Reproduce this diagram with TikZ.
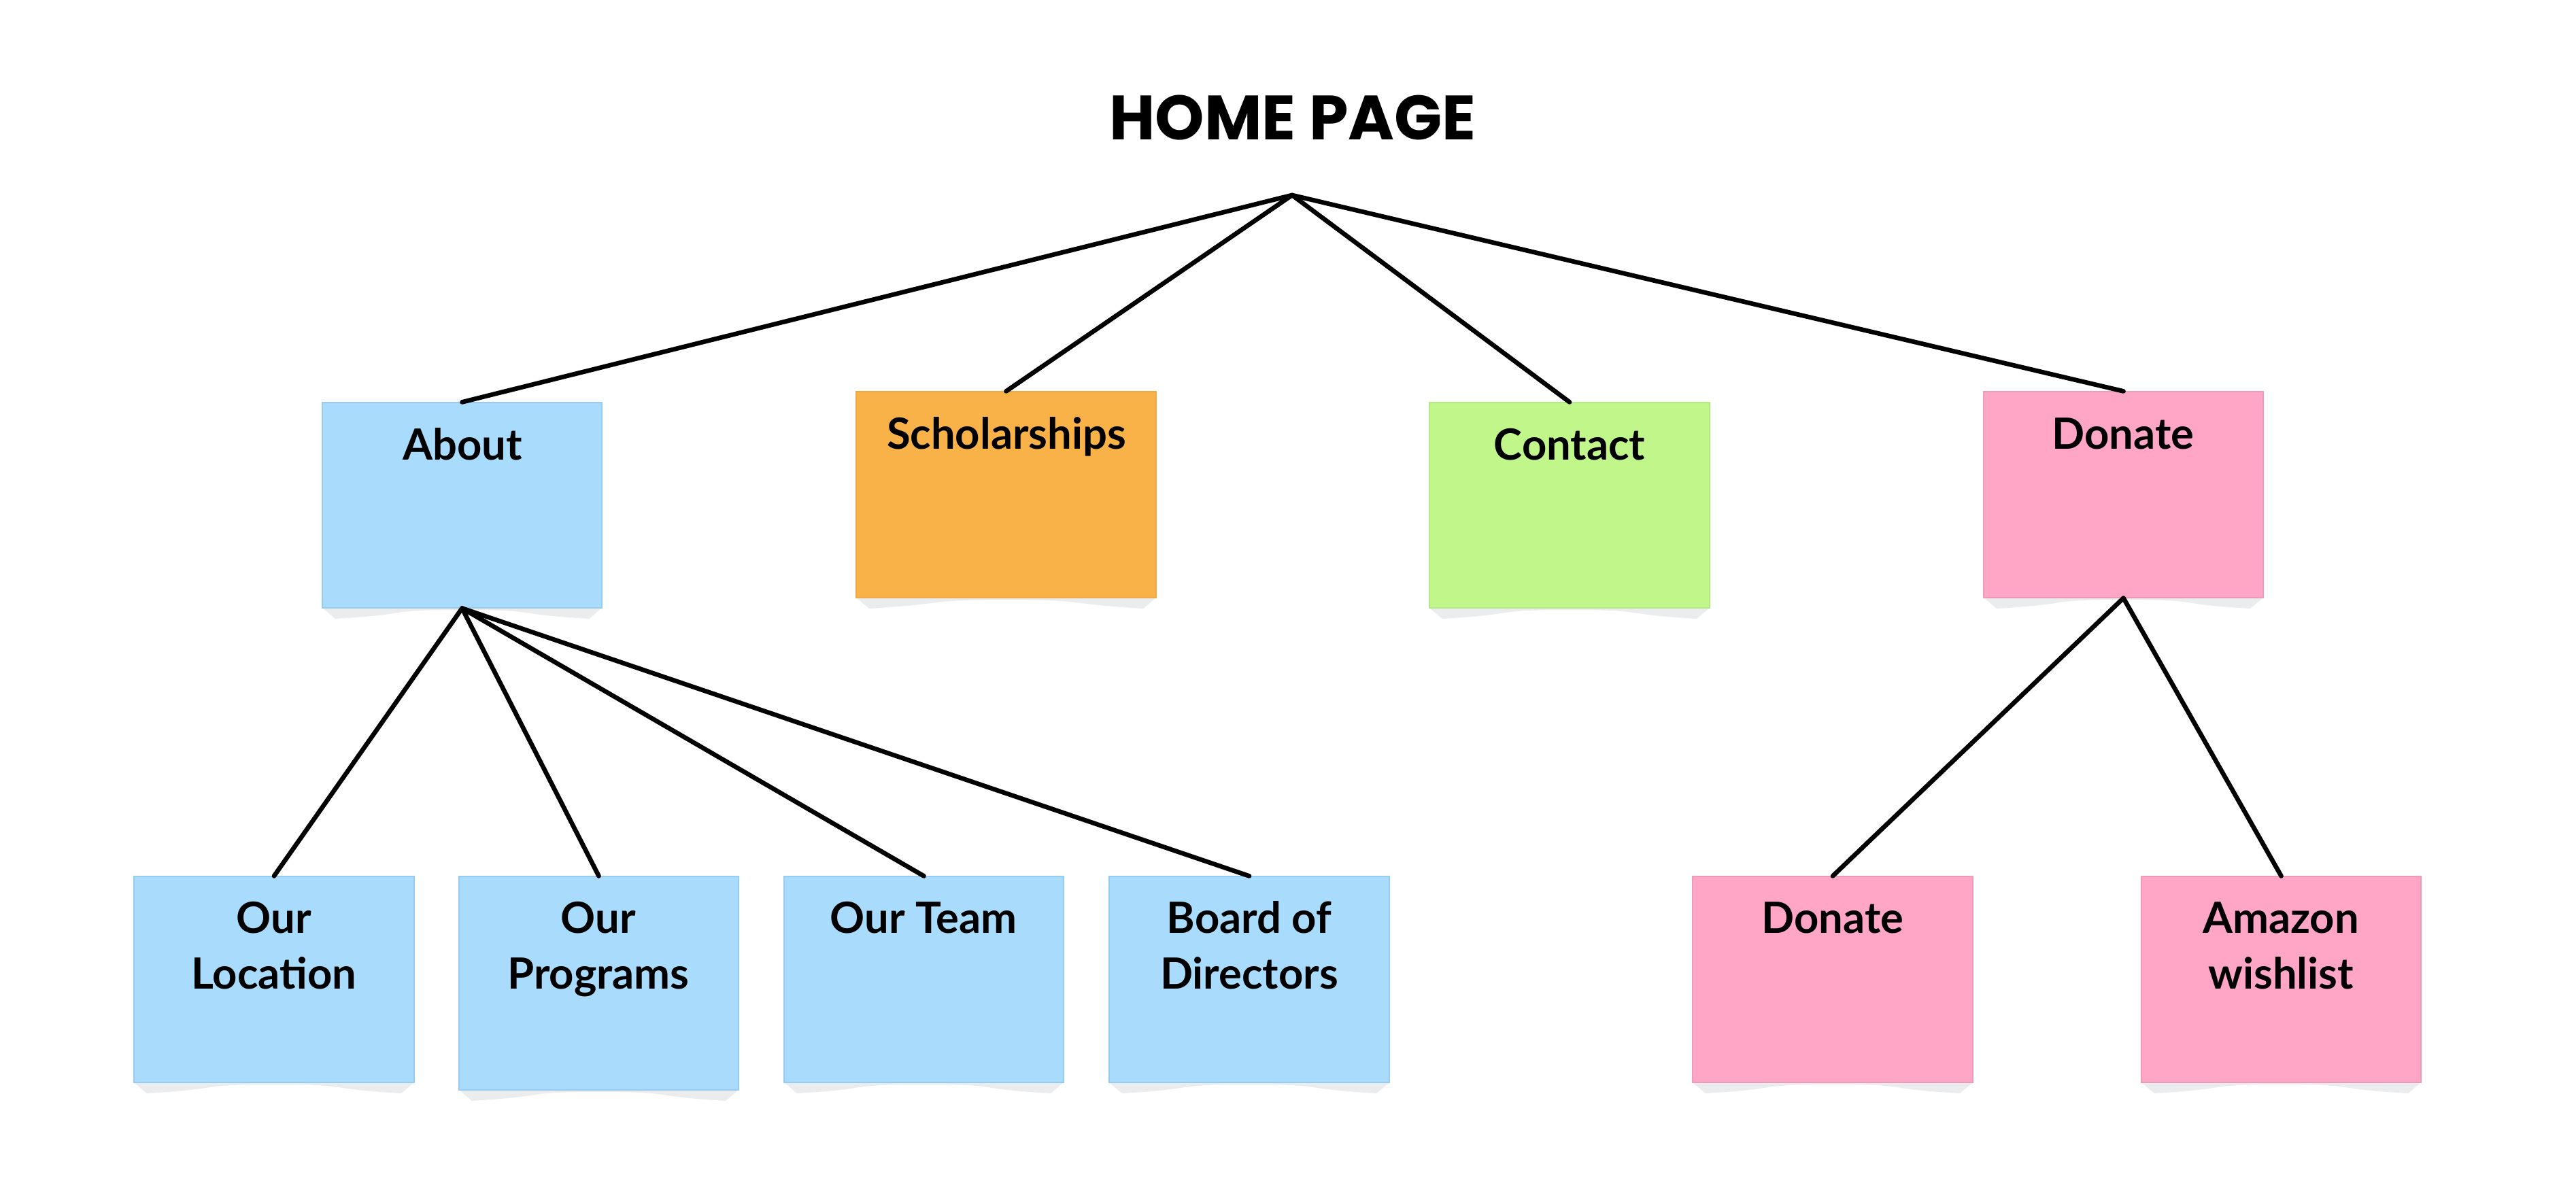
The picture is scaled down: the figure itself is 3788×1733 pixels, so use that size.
\documentclass[tikz,border=0pt]{standalone}
\usepackage{fontspec}
\setmainfont{Lato}
\newfontfamily\titlefont{Poppins}
\usetikzlibrary{calc}
\definecolor{blueF}{RGB}{169,219,253}
\definecolor{blueD}{RGB}{150,204,242}
\definecolor{orangeF}{RGB}{248,178,72}
\definecolor{orangeD}{RGB}{238,170,70}
\definecolor{greenF}{RGB}{193,247,138}
\definecolor{greenD}{RGB}{178,234,128}
\definecolor{pinkF}{RGB}{255,166,198}
\definecolor{pinkD}{RGB}{236,156,186}
\definecolor{shadowC}{RGB}{235,236,238}
\tikzset{
  boxst/.style={rectangle, inner sep=0pt, line width=0.35pt},
  lbl/.style={anchor=base, inner sep=0pt, font=\bfseries\fontsize{18}{21}\selectfont},
  link/.style={line width=1.9pt, black, line cap=round, line join=round},
}
% name, xl, yt, xr, yb, fill, border
\newcommand\stickynote[7]{%
  \fill[shadowC] (#2,#5) -- (#4,#5) -- ++(-19,16)
     .. controls +(-120,-7) and +(120,0) .. ({(#2+#4)/2},{#5+3})
     .. controls +(-120,0) and +(120,-7) .. ({#2+19},{#5+16}) -- cycle;
  \node[boxst, fill=#6, draw=#7,
        minimum width={(#4-#2)*0.01cm}, minimum height={(#5-#3)*0.01cm}]
        (#1) at ({(#2+#4)/2},{(#3+#5)/2}) {};
}
\begin{document}
\begin{tikzpicture}[x=0.01cm,y=-0.01cm]
\useasboundingbox[fill=white] (0,0) rectangle (3788,1733);

\node[anchor=base, inner sep=0pt, font=\titlefont\bfseries\fontsize{26.2}{30}\selectfont] (home) at (1901,205) {HOME PAGE};
\coordinate (hub) at (1900,287);

\stickynote{about}{474}{592}{885}{894}{blueF}{blueD}
\stickynote{schol}{1259}{576}{1700}{879}{orangeF}{orangeD}
\stickynote{contact}{2102}{592}{2514}{894}{greenF}{greenD}
\stickynote{donate}{2917}{576}{3328}{879}{pinkF}{pinkD}

\stickynote{loc}{197}{1289}{609}{1592}{blueF}{blueD}
\stickynote{prog}{675}{1289}{1086}{1603}{blueF}{blueD}
\stickynote{team}{1153}{1289}{1564}{1592}{blueF}{blueD}
\stickynote{board}{1631}{1289}{2043}{1592}{blueF}{blueD}
\stickynote{don2}{2489}{1289}{2901}{1592}{pinkF}{pinkD}
\stickynote{amaz}{3149}{1289}{3560}{1592}{pinkF}{pinkD}

\node[lbl] (aboutL) at (680,676) {About};
\node[lbl] (scholL) at (1480,660) {Scholarships};
\node[lbl] (contactL) at (2308,676) {Contact};
\node[lbl] (donateL) at (3122,660) {Donate};

\node[lbl] (locL1) at (403,1372) {Our};
\node[lbl] (locL2) at (403,1454) {Location};
\node[lbl] (progL1) at (880,1372) {Our};
\node[lbl] (progL2) at (880,1454) {Programs};
\node[lbl] (teamL) at (1358,1372) {Our Team};
\node[lbl] (boardL1) at (1837,1372) {Board of};
\node[lbl] (boardL2) at (1837,1454) {Directors};
\node[lbl] (don2L) at (2695,1372) {Donate};
\node[lbl] (amazL1) at (3354,1372) {Amazon};
\node[lbl] (amazL2) at (3354,1454) {wishlist};

\draw[link] (hub) -- (about.north);
\draw[link] (hub) -- (schol.north);
\draw[link] (hub) -- (contact.north);
\draw[link] (hub) -- (donate.north);

\draw[link] (about.south) -- (loc.north);
\draw[link] (about.south) -- (prog.north);
\draw[link] (about.south) -- (team.north);
\draw[link] (about.south) -- (board.north);

\draw[link] (donate.south) -- (don2.north);
\draw[link] (donate.south) -- (amaz.north);
\end{tikzpicture}
\end{document}
